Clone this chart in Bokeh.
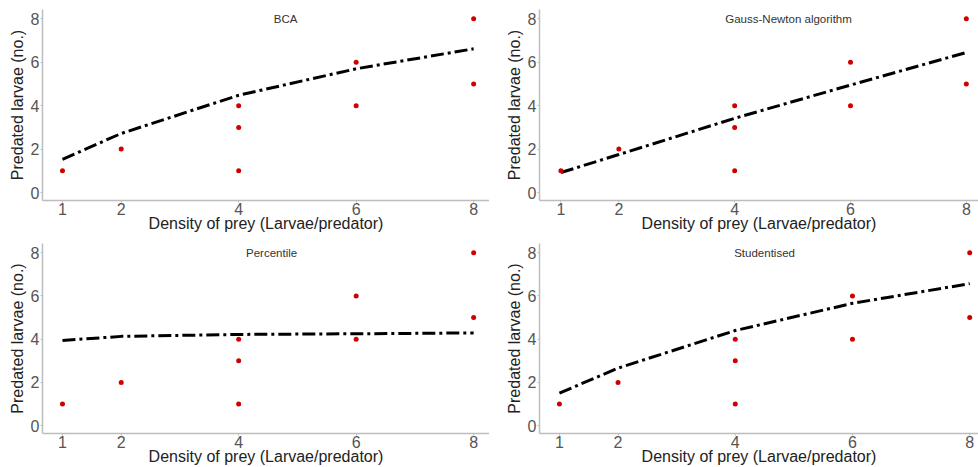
from bokeh.plotting import figure
from bokeh.layouts import gridplot
from bokeh.models import Range1d, FixedTicker
from bokeh.core.properties import value
from bokeh.embed import file_html
from bokeh.resources import INLINE

# ---- data ----
density = [1, 2, 4, 6, 8]
obs_x = [1, 2, 4, 4, 4, 6, 6, 8, 8]
obs_y = [1, 2, 1, 3, 4, 4, 6, 5, 8]
bca = [1.53, 2.72, 4.48, 5.70, 6.62]
gauss_newton = [0.92, 1.75, 3.42, 4.95, 6.45]
percentile = [3.94, 4.13, 4.22, 4.25, 4.29]
studentised = [1.50, 2.66, 4.40, 5.66, 6.57]
x_ticks = [1, 2, 4, 6, 8]
y_ticks = [0, 2, 4, 6, 8]
titles = ["BCA", "Gauss-Newton algorithm", "Percentile", "Studentised"]
x_title = "Density of prey (Larvae/predator)"
y_title = "Predated larvae (no.)"

FONT = "Liberation Sans"


def make_panel(title, fit, title_x, border_left, x_left, x_right, height):
    p = figure(width=489, height=height, output_backend="svg", toolbar_location=None,
               x_range=Range1d(x_left, x_right), y_range=Range1d(-0.367, 8.43),
               min_border_left=border_left, min_border_right=0,
               min_border_top=9, min_border_bottom=height - 201)
    p.outline_line_color = None
    p.xgrid.grid_line_color = None
    p.ygrid.grid_line_color = None
    p.background_fill_color = "white"
    p.border_fill_color = "white"
    for ax in (p.xaxis[0], p.yaxis[0]):
        ax.axis_line_color = "#bdbdbd"
        ax.axis_line_width = 1.5
        ax.major_tick_line_color = "#bdbdbd"
        ax.major_tick_out = 2
        ax.major_tick_in = 0
        ax.minor_tick_line_color = None
        ax.major_label_text_font = FONT
        ax.major_label_text_font_size = "16px"
        ax.major_label_text_color = "#555555"
        ax.axis_label_text_font = FONT
        ax.axis_label_text_font_size = "16px"
        ax.axis_label_text_font_style = "normal"
        ax.axis_label_text_color = "#222222"
    p.xaxis.ticker = FixedTicker(ticks=x_ticks)
    p.yaxis.ticker = FixedTicker(ticks=y_ticks)
    p.xaxis.axis_label = x_title
    p.yaxis.axis_label = y_title
    p.xaxis.major_label_standoff = 0
    p.xaxis.axis_label_standoff = -3
    p.yaxis.major_label_standoff = 1
    p.yaxis.axis_label_standoff = 2

    p.line(density, fit, line_color="black", line_width=3, line_dash="13 4 3 4")
    p.scatter(obs_x, obs_y, size=5, color="#d10000", line_color=None)
    p.text(x=[title_x], y=[8], text=[title], text_align="center", text_baseline="middle",
           text_font=value(FONT), text_font_size="11.5px", text_color="#333333")
    return p


p1 = make_panel(titles[0], bca, 4.8, 42, 0.66, 8.27, 234)
p2 = make_panel(titles[1], gauss_newton, 4.93, 45, 0.63, 8.21, 234)
p3 = make_panel(titles[2], percentile, 4.56, 42, 0.66, 8.27, 233)
p4 = make_panel(titles[3], studentised, 4.5, 50, 0.66, 8.15, 233)

grid = gridplot([[p1, p2], [p3, p4]], toolbar_location=None)

open("out.html", "w").write(file_html(grid, INLINE))
